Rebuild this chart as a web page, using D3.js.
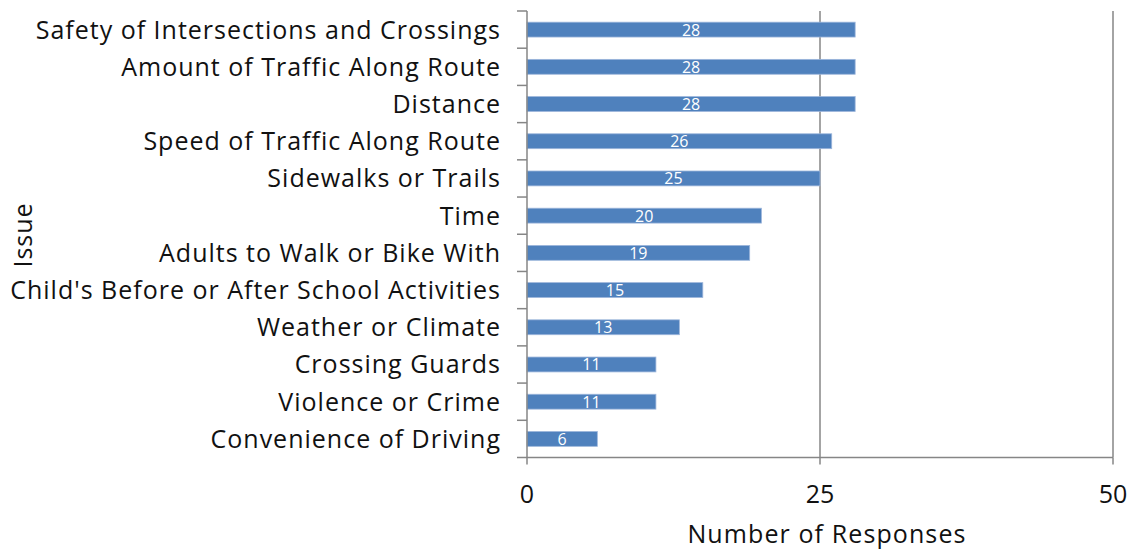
<!DOCTYPE html>
<html>
<head>
<meta charset="utf-8">
<script src="https://d3js.org/d3.v7.min.js"></script>
<style>
  body { margin: 0; background: #fff; }
  text { font-family: "Open Sans", sans-serif; }
</style>
</head>
<body>
<script>
// chart data
var issues = ["Safety of Intersections and Crossings", "Amount of Traffic Along Route", "Distance",
  "Speed of Traffic Along Route", "Sidewalks or Trails", "Time", "Adults to Walk or Bike With",
  "Child's Before or After School Activities", "Weather or Climate", "Crossing Guards",
  "Violence or Crime", "Convenience of Driving"];
var responses = [28, 28, 28, 26, 25, 20, 19, 15, 13, 11, 11, 6];
var xTicks = [0, 25, 50];

var width = 1133, height = 551;
var plotLeft = 527, plotRight = 1113, plotTop = 11, plotBottom = 457.5;

var svg = d3.select("body").append("svg")
  .attr("width", width).attr("height", height);

var x = d3.scaleLinear().domain([0, 50]).range([plotLeft, plotRight]);
var y = d3.scaleBand().domain(issues).range([plotTop, plotBottom]).paddingInner(0.6).paddingOuter(0.3);
var yTick = d3.scaleLinear().domain([0, issues.length]).range([plotTop, plotBottom]);

var grey = "#868686";

// vertical gridlines
svg.selectAll("line.grid").data(xTicks.slice(1)).enter().append("line")
  .attr("x1", d => x(d)).attr("x2", d => x(d))
  .attr("y1", plotTop).attr("y2", plotBottom)
  .attr("stroke", grey).attr("stroke-width", 1.5);

// bars
svg.selectAll("rect.bar").data(responses).enter().append("rect")
  .attr("x", x(0))
  .attr("y", (d, i) => y(issues[i]))
  .attr("width", d => x(d) - x(0))
  .attr("height", y.bandwidth())
  .attr("fill", "#4F81BD")
  .attr("stroke", "#9DB6DB").attr("stroke-width", 0.8);

// value labels
svg.selectAll("text.val").data(responses).enter().append("text")
  .attr("x", d => (x(d) + x(0)) / 2)
  .attr("y", (d, i) => y(issues[i]) + y.bandwidth() / 2 + 6)
  .attr("text-anchor", "middle")
  .attr("fill", "#fff").style("font-size", "16px")
  .text(d => d);

// y axis line + ticks
svg.append("line").attr("x1", plotLeft).attr("x2", plotLeft).attr("y1", plotTop).attr("y2", plotBottom)
  .attr("stroke", grey).attr("stroke-width", 1.5);
svg.selectAll("line.ytick").data(d3.range(issues.length + 1)).enter().append("line")
  .attr("x1", plotLeft - 10).attr("x2", plotLeft)
  .attr("y1", d => yTick(d)).attr("y2", d => yTick(d))
  .attr("stroke", grey).attr("stroke-width", 1.5);

// x axis line + ticks
svg.append("line").attr("x1", plotLeft).attr("x2", plotRight).attr("y1", plotBottom).attr("y2", plotBottom)
  .attr("stroke", grey).attr("stroke-width", 1.5);
svg.selectAll("line.xtick").data(xTicks).enter().append("line")
  .attr("x1", d => x(d)).attr("x2", d => x(d))
  .attr("y1", plotBottom).attr("y2", plotBottom + 7)
  .attr("stroke", grey).attr("stroke-width", 1.5);

// category labels
svg.selectAll("text.cat").data(issues).enter().append("text")
  .attr("x", 501)
  .attr("y", d => y(d) + y.bandwidth() / 2 + 9)
  .attr("text-anchor", "end")
  .attr("fill", "#111").style("font-size", "25px").style("letter-spacing", "1px")
  .text(d => d);

// x tick labels
svg.selectAll("text.xl").data(xTicks).enter().append("text")
  .attr("x", d => x(d)).attr("y", 503)
  .attr("text-anchor", "middle")
  .attr("fill", "#111").style("font-size", "25px")
  .text(d => d);

// axis titles
svg.append("text").attr("x", 827).attr("y", 543)
  .attr("text-anchor", "middle").attr("fill", "#111").style("font-size", "25px").style("letter-spacing", "1.1px")
  .text("Number of Responses");
svg.append("text").attr("transform", "translate(32,235) rotate(-90)")
  .attr("text-anchor", "middle").attr("fill", "#111").style("font-size", "25px").style("letter-spacing", "1px")
  .text("Issue");
</script>
</body>
</html>
